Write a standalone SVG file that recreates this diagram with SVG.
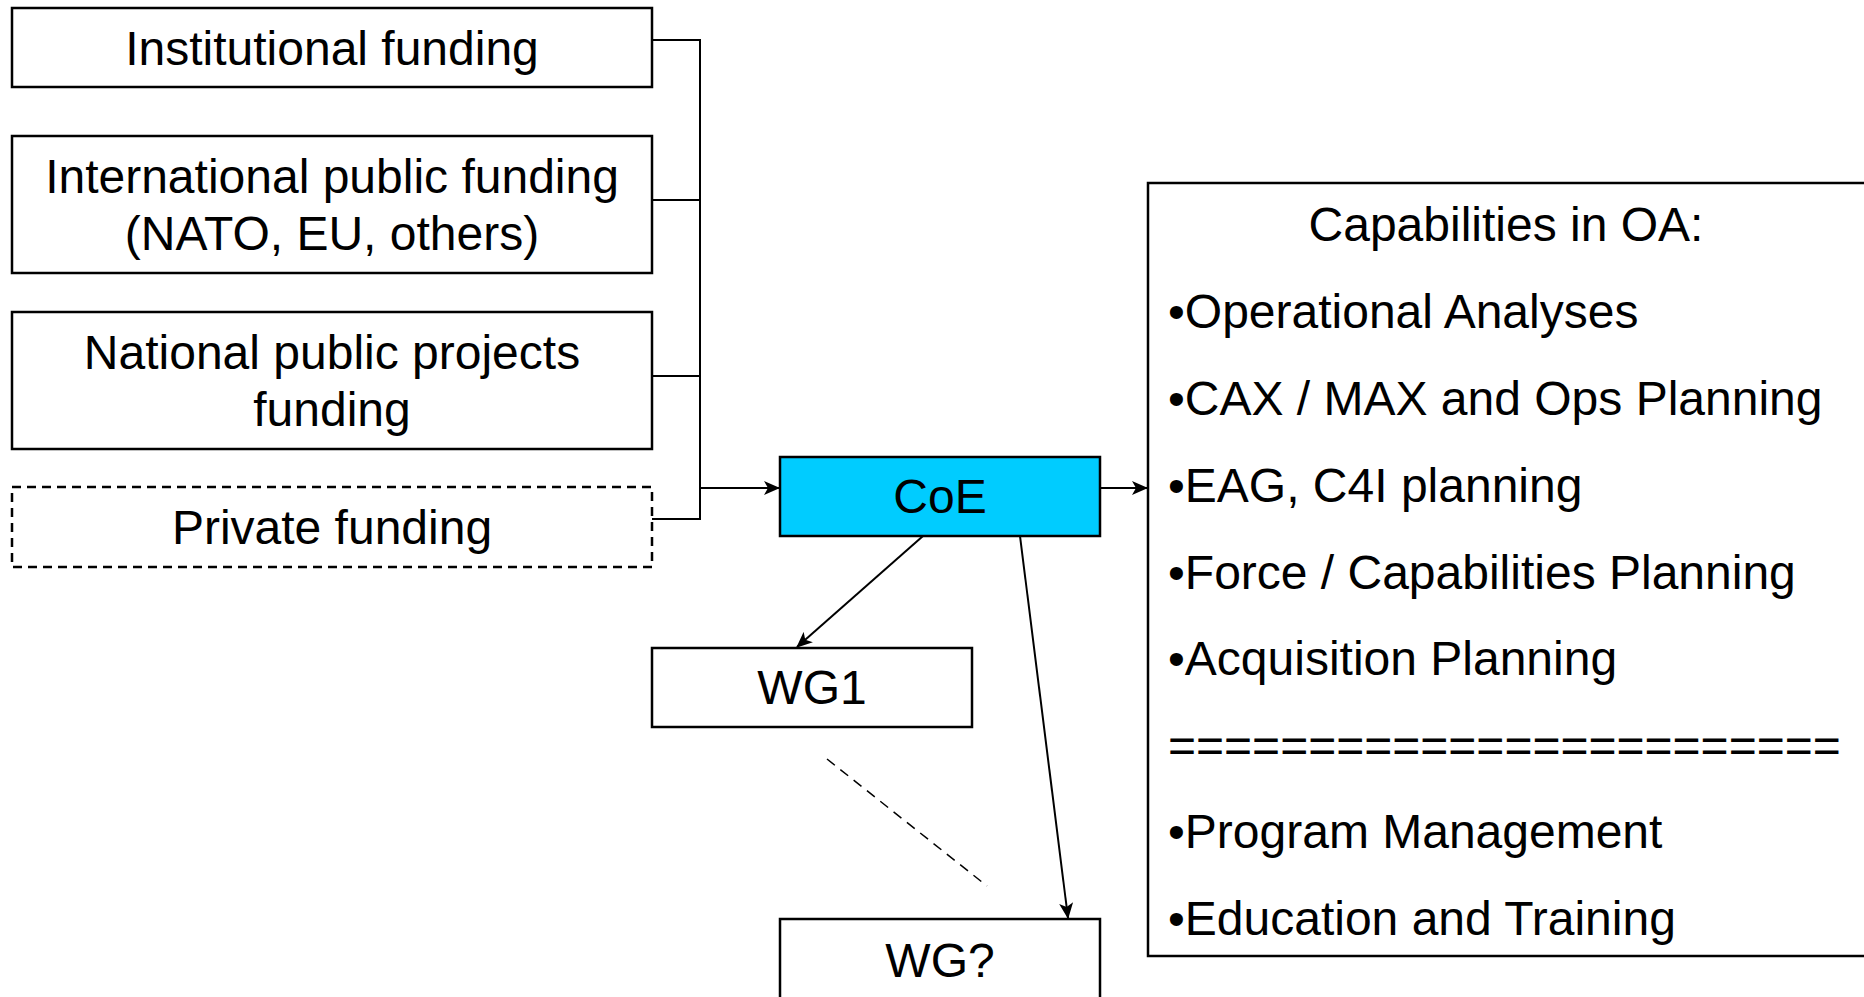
<svg xmlns="http://www.w3.org/2000/svg" width="1864" height="997" viewBox="0 0 1864 997">
<style>
.box{fill:#ffffff;stroke:#000000;stroke-width:2.5}
.dbox{fill:#ffffff;stroke:#000000;stroke-width:2.5;stroke-dasharray:9 6}
.coe{fill:#00CCFF;stroke:#000000;stroke-width:2.5}
.t{font-family:"Liberation Sans",Arial,sans-serif;font-size:48px;fill:#000000}
.c{text-anchor:middle}
.ln{fill:none;stroke:#000000;stroke-width:2}
.dl{fill:none;stroke:#000000;stroke-width:1.5;stroke-dasharray:10 7}
</style>
<defs>
<marker id="ah" markerUnits="userSpaceOnUse" markerWidth="16" markerHeight="14" refX="15" refY="7" orient="auto">
<path d="M0,0 L16,7 L0,14 L4,7 Z" fill="#000000"/>
</marker>
</defs>
<rect width="1864" height="997" fill="#ffffff"/>
<g id="institutional">
<rect class="box" x="12" y="8" width="640" height="79"/>
<text class="t c" x="332" y="65">Institutional funding</text>
</g>
<g id="international">
<rect class="box" x="12" y="136" width="640" height="137"/>
<text class="t c" x="332" y="193">International public funding</text>
<text class="t c" x="332" y="250">(NATO, EU, others)</text>
</g>
<g id="national">
<rect class="box" x="12" y="312" width="640" height="137"/>
<text class="t c" x="332" y="369">National public projects</text>
<text class="t c" x="332" y="426">funding</text>
</g>
<g id="private">
<rect class="dbox" x="12" y="487" width="640" height="80"/>
<text class="t c" x="332" y="544">Private funding</text>
</g>
<g id="coe">
<rect class="coe" x="780" y="457" width="320" height="79"/>
<text class="t c" x="940" y="513">CoE</text>
</g>
<g id="wg1">
<rect class="box" x="652" y="648" width="320" height="79"/>
<text class="t c" x="812" y="704">WG1</text>
</g>
<g id="wgq">
<rect class="box" x="780" y="919" width="320" height="82"/>
<text class="t c" x="940" y="977">WG?</text>
</g>
<g id="capabilities">
<rect class="box" x="1148" y="183" width="720" height="773"/>
<text class="t c" x="1506" y="241">Capabilities in OA:</text>
<text class="t" x="1168" y="328">•Operational Analyses</text>
<text class="t" x="1168" y="415">•CAX / MAX and Ops Planning</text>
<text class="t" x="1168" y="502">•EAG, C4I planning</text>
<text class="t" x="1168" y="589">•Force / Capabilities Planning</text>
<text class="t" x="1168" y="675">•Acquisition Planning</text>
<text class="t" x="1168" y="762">========================</text>
<text class="t" x="1168" y="848">•Program Management</text>
<text class="t" x="1168" y="935">•Education and Training</text>
</g>
<g id="connectors">
<path class="ln" d="M652,40 H700 V519 H652"/>
<path class="ln" d="M652,200 H700"/>
<path class="ln" d="M652,376 H700"/>
<path class="ln" d="M700,488 H779" stroke-width="2.5" marker-end="url(#ah)"/>
<path class="ln" d="M1100,488 H1147" stroke-width="2.5" marker-end="url(#ah)"/>
<path class="ln" d="M923,536 L797,647" marker-end="url(#ah)"/>
<path class="ln" d="M1020,536 L1068,918" marker-end="url(#ah)"/>
<path class="dl" d="M827,759 L987,886"/>
</g>
</svg>
